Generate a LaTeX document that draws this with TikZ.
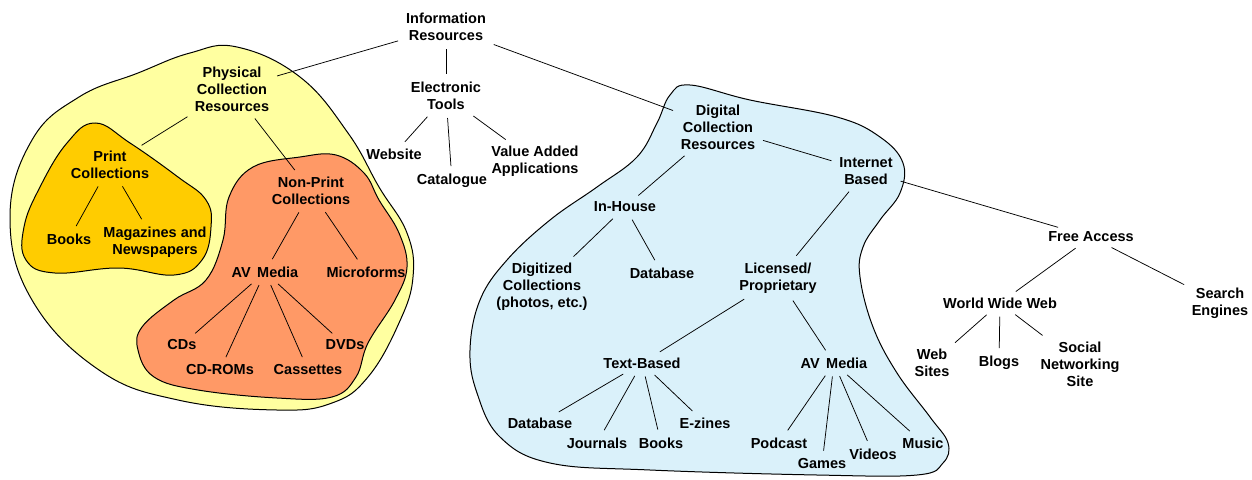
\documentclass[tikz,border=0pt]{standalone}
\usepackage{fontspec}
\setmainfont{Liberation Sans}
\usetikzlibrary{calc}
\definecolor{physyellow}{RGB}{255,255,160}
\definecolor{printorange}{RGB}{255,204,0}
\definecolor{nonprint}{RGB}{255,153,102}
\definecolor{digblue}{RGB}{218,241,250}
\tikzset{
  lbl/.style={font=\bfseries\fontsize{14.5}{17}\selectfont, align=center, inner sep=3pt},
  conn/.style={draw=black, line width=0.75pt, shorten >=5pt, shorten <=5pt},
  blob/.style={draw=black, line width=1pt}
}
\begin{document}
\begin{tikzpicture}[x=1pt,y=-1pt]
\useasboundingbox (0,0) rectangle (1252,479);
% blobs
\path[blob, fill=physyellow] plot[smooth cycle, tension=0.7] coordinates {
 (237,47) (300,77) (348,133) (379,187) (407,233) (413,277) (399,323) (368,377)
 (332,403) (277,410) (178,400) (99,370) (32,300) (10,217) (32,140) (79,97) (138,73) (190,53)};
\path[blob, fill=printorange] plot[smooth cycle, tension=0.7] coordinates {
 (95,123) (130,143) (178,177) (206,200) (211,227) (202,260) (174,275) (119,268)
 (55,273) (26,260) (24,227) (40,187) (67,143)};
\path[blob, fill=nonprint] plot[smooth cycle, tension=0.65] coordinates {
 (300,157) (336,155) (364,173) (379,200) (399,233) (407,267) (395,300) (368,343)
 (356,377) (332,397) (277,398) (198,390) (154,377) (138,350) (142,327) (174,300)
 (206,280) (223,240) (229,197) (253,167)};
\path[blob, fill=digblue] plot[smooth cycle, tension=0.65] coordinates {
 (690,85) (750,100) (837,117) (880,137) (903,163) (900,193) (880,220) (863,247)
 (860,277) (873,327) (897,373) (930,417) (948,443) (943,463) (917,475) (817,475)
 (650,470) (550,463) (500,437) (477,393) (470,350) (480,300) (507,260) (550,220)
 (597,187) (637,157) (657,123) (670,95)};
% nodes
\node[lbl] (info) at (446,27) {Information\\Resources};
\node[lbl] (phys) at (232,89) {Physical\\Collection\\Resources};
\node[lbl] (elec) at (446,96) {Electronic\\Tools};
\node[lbl] (web) at (394,154) {Website};
\node[lbl] (cat) at (452,181) {Catalogue};
\node[lbl] (vaa) at (535,161) {Value Added\\Applications};
\node[lbl] (print) at (110,165) {Print\\Collections};
\node[lbl] (books) at (69,239) {Books};
\node[lbl] (mag) at (155,242) {Magazines and\\Newspapers};
\node[lbl] (np) at (311,191) {Non-Print\\Collections};
\node[lbl] (av) at (265,272) {AV\, Media};
\node[lbl] (micro) at (366,272) {Microforms};
\node[lbl] (cds) at (182,345) {CDs};
\node[lbl] (cdrom) at (220,370) {CD-ROMs};
\node[lbl] (cass) at (308,370) {Cassettes};
\node[lbl] (dvd) at (345,345) {DVDs};
\node[lbl] (dig) at (718,127) {Digital\\Collection\\Resources};
\node[lbl] (inet) at (866,171) {Internet\\Based};
\node[lbl] (inh) at (625,207) {In-House};
\node[lbl] (digit) at (542,287) {Digitized\\Collections\\(photos, etc.)};
\node[lbl] (db) at (662,273) {Database};
\node[lbl] (lic) at (778,278) {Licensed/\\Proprietary};
\node[lbl] (text) at (642,363) {Text-Based};
\node[lbl] (avb) at (834,363) {AV\, Media};
\node[lbl] (dbb) at (540,423) {Database};
\node[lbl] (jour) at (597,443) {Journals};
\node[lbl] (bookb) at (661,443) {Books};
\node[lbl] (ez) at (705,423) {E-zines};
\node[lbl] (pod) at (779,443) {Podcast};
\node[lbl] (games) at (822,464) {Games};
\node[lbl] (vid) at (873,454) {Videos};
\node[lbl] (music) at (923,443) {Music};
\node[lbl] (free) at (1091,237) {Free Access};
\node[lbl] (www) at (1000,303) {World Wide Web};
\node[lbl] (search) at (1220,303) {Search\\Engines};
\node[lbl] (wsites) at (932,363) {Web\\Sites};
\node[lbl] (blogs) at (999,363) {Blogs};
\node[lbl] (social) at (1080,364) {Social\\Networking\\Site};
% connectors
\foreach \a/\b in {info/phys, info/elec, info/dig, phys/print, phys/np,
  elec/web, elec/cat, elec/vaa, print/books, print/mag, np/av, np/micro,
  av/cds, av/cdrom, av/cass, av/dvd, dig/inet, dig/inh, inh/digit, inh/db,
  inet/lic, inet/free, lic/text, lic/avb, text/dbb, text/jour, text/bookb, text/ez,
  avb/pod, avb/games, avb/vid, avb/music, free/www, free/search,
  www/wsites, www/blogs, www/social}
  \draw[conn] (\a) -- (\b);
\end{tikzpicture}
\end{document}
